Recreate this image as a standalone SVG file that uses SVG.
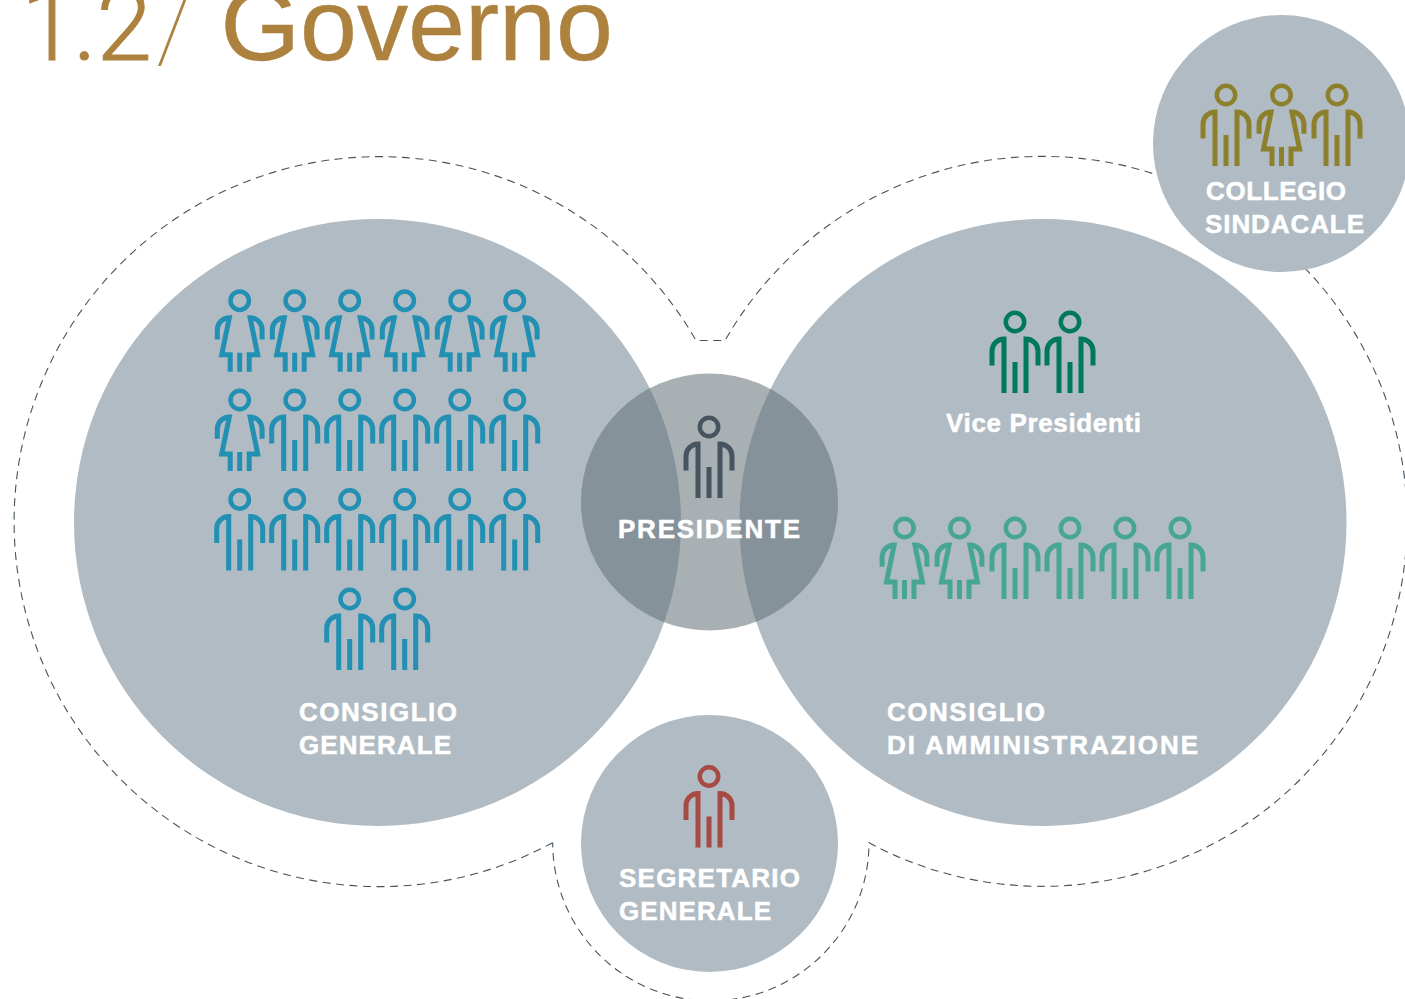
<svg xmlns="http://www.w3.org/2000/svg" width="1405" height="999" viewBox="0 0 1405 999">
<style>
.disc{fill:#b0bbc3}
.lens{fill:#85929a}
.lbl{font-family:"Liberation Sans",Arial,sans-serif;font-weight:700;font-size:26px;fill:#fff;stroke:#fff;stroke-width:.5}
.title{font-family:"Liberation Sans",Arial,sans-serif;font-size:102.3px;fill:#ad813e}
.dash{fill:none;stroke:#45545f;stroke-width:1.1;stroke-dasharray:8 5.5}
.ic{fill:none;stroke:currentColor;stroke-width:5}
.blue{color:#2190b3}.olive{color:#8c802c}.green{color:#00795a}.teal{color:#46a593}.red{color:#a64a43}.slate{color:#45545f}
</style>
<defs>
<g id="man" class="ic"><circle cx="0" cy="0" r="9.2" stroke-width="4.5"/><path d="M-23 43.5V29A12 12 0 0 1-11 17V71M0 40V71M11 71V17A12 12 0 0 1 23 29V43.5"/></g>
<g id="woman" class="ic"><circle cx="0" cy="0" r="9.2" stroke-width="4.5"/><path d="M-22.400 38.700V29A12 12 0 0 1-10.400 17L-18 54H-9.500V71M0 52V71M9.500 71V54H18L10.400 17A12 12 0 0 1 22.400 29V38.700"/></g>
<clipPath id="cc"><circle cx="709.5" cy="502" r="128.5"/></clipPath>
</defs>
<rect width="1405" height="999" fill="#fff"/>
<g id="title">
<text class="title" x="21 73 96.5" y="60" style="font-family:Roboto,'Liberation Sans',sans-serif;font-weight:300;font-size:100px;stroke:#ad813e;stroke-width:1">1.2</text>
<text class="title" x="156" y="60" style="font-family:Roboto,'Liberation Sans',sans-serif;font-weight:100;font-size:100px">/</text>
<text class="title" x="220.500" y="60" stroke="#ad813e" stroke-width=".5">Governo</text>
</g>
<g id="connectors">
<path class="dash" d="M552.7 842.7A365 365 0 1 1 696 340.500H725A365 365 0 1 1 869 842.7A158 158 0 1 1 552.7 842.7"/>
</g>
<g id="consiglio-generale">
<circle class="disc" cx="377.500" cy="522.500" r="303.500"/>
<g class="blue">
<use href="#woman" x="239.7" y="300.7"/><use href="#woman" x="294.7" y="300.7"/><use href="#woman" x="349.7" y="300.7"/><use href="#woman" x="404.7" y="300.7"/><use href="#woman" x="459.7" y="300.7"/><use href="#woman" x="514.7" y="300.7"/>
<use href="#woman" x="239.7" y="400"/><use href="#man" x="294.7" y="400"/><use href="#man" x="349.7" y="400"/><use href="#man" x="404.7" y="400"/><use href="#man" x="459.7" y="400"/><use href="#man" x="514.7" y="400"/>
<use href="#man" x="239.7" y="499.5"/><use href="#man" x="294.7" y="499.5"/><use href="#man" x="349.7" y="499.5"/><use href="#man" x="404.7" y="499.5"/><use href="#man" x="459.7" y="499.5"/><use href="#man" x="514.7" y="499.5"/>
<use href="#man" x="349.7" y="599"/><use href="#man" x="404.7" y="599"/>
</g>
<text class="lbl" x="299" y="721.300" textLength="158">CONSIGLIO</text>
<text class="lbl" x="299" y="754.300" textLength="152">GENERALE</text>
</g>
<g id="consiglio-amministrazione">
<circle class="disc" cx="1043" cy="522.500" r="303.500"/>
<g class="green"><use href="#man" x="1015" y="322"/><use href="#man" x="1070" y="322"/></g>
<text class="lbl" x="946" y="431.500" textLength="195">Vice Presidenti</text>
<g class="teal">
<use href="#woman" x="904.5" y="528"/><use href="#woman" x="959.5" y="528"/><use href="#man" x="1015" y="528"/><use href="#man" x="1070" y="528"/><use href="#man" x="1125" y="528"/><use href="#man" x="1180" y="528"/>
</g>
<text class="lbl" x="887" y="721.300" textLength="158">CONSIGLIO</text>
<text class="lbl" x="887" y="754.300" textLength="311">DI AMMINISTRAZIONE</text>
</g>
<g id="presidente">
<circle cx="709.5" cy="502" r="128.5" fill="#a9b0b4"/>
<g clip-path="url(#cc)"><circle class="lens" cx="377.500" cy="522.500" r="303.500"/><circle class="lens" cx="1043" cy="522.500" r="303.500"/></g>
<g class="slate"><use href="#man" x="709" y="427"/></g>
<text class="lbl" x="618" y="538" textLength="182">PRESIDENTE</text>
</g>
<g id="segretario-generale">
<circle class="disc" cx="709.5" cy="843.5" r="128.5"/>
<g class="red"><use href="#man" x="709" y="776.500"/></g>
<text class="lbl" x="619" y="887.300" textLength="181">SEGRETARIO</text>
<text class="lbl" x="619" y="920.300" textLength="152">GENERALE</text>
</g>
<g id="collegio-sindacale">
<circle class="disc" cx="1281.500" cy="143.5" r="128.5"/>
<g class="olive"><use href="#man" x="1226" y="95"/><use href="#woman" x="1281.5" y="95"/><use href="#man" x="1337" y="95"/></g>
<text class="lbl" x="1206" y="199.700" textLength="140">COLLEGIO</text>
<text class="lbl" x="1205" y="233.200" textLength="159">SINDACALE</text>
</g>
</svg>
